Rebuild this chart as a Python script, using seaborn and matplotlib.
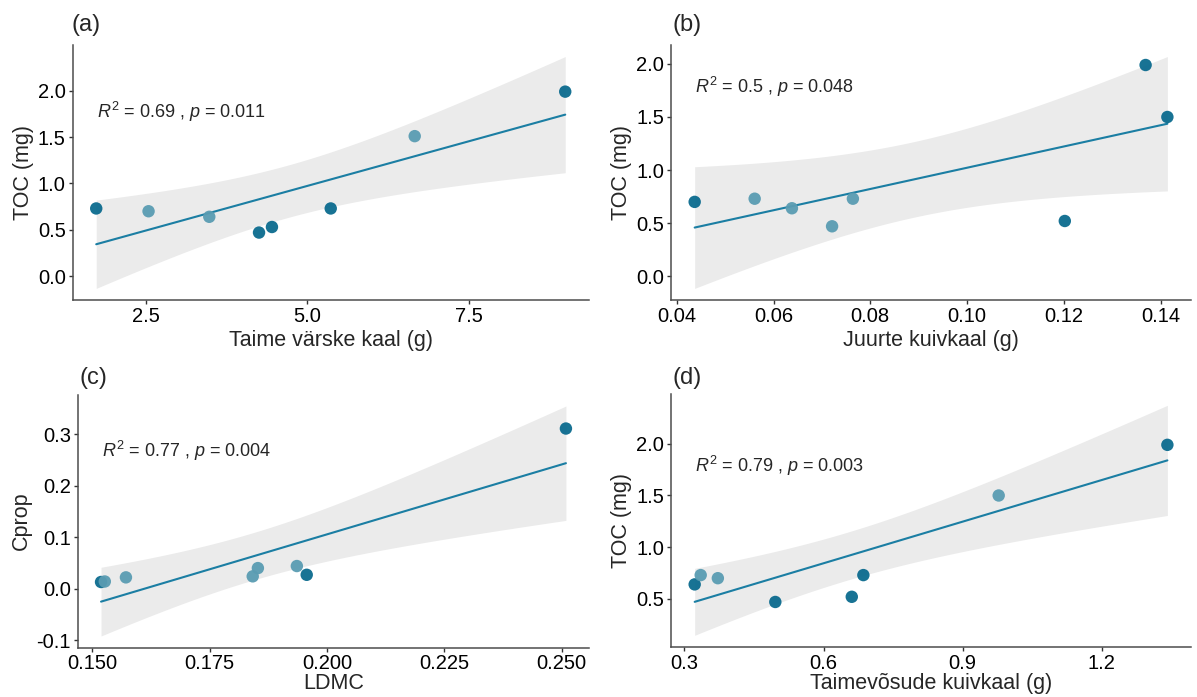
import numpy as np
import pandas as pd
import matplotlib
matplotlib.use("Agg")
import matplotlib.pyplot as plt
import seaborn as sns

# values
a_x = [1.73, 2.54, 3.48, 4.25, 4.45, 5.36, 6.66, 8.99]
a_y = [0.73, 0.70, 0.64, 0.47, 0.53, 0.73, 1.51, 1.99]
a_group = ["dark", "light", "light", "dark", "dark", "dark", "light", "dark"]

b_x = [0.0437, 0.0561, 0.0638, 0.0721, 0.0764, 0.1202, 0.1369, 0.1414]
b_y = [0.70, 0.73, 0.64, 0.47, 0.73, 0.52, 1.99, 1.50]
b_group = ["dark", "light", "light", "light", "light", "dark", "dark", "dark"]

c_x = [0.1519, 0.1527, 0.1572, 0.1842, 0.1853, 0.1936, 0.1957, 0.2509]
c_y = [0.013, 0.014, 0.022, 0.024, 0.040, 0.044, 0.027, 0.311]
c_group = ["dark", "light", "light", "light", "light", "light", "dark", "dark"]

d_x = [0.322, 0.335, 0.372, 0.496, 0.661, 0.686, 0.978, 1.342]
d_y = [0.64, 0.73, 0.70, 0.47, 0.52, 0.73, 1.50, 1.99]
d_group = ["dark", "light", "light", "dark", "dark", "dark", "light", "dark"]

x_labels = ["Taime värske kaal (g)", "Juurte kuivkaal (g)", "LDMC", "Taimevõsude kuivkaal (g)"]
y_labels = ["TOC (mg)", "TOC (mg)", "Cprop", "TOC (mg)"]
stat_labels = [r"$R^2$ = 0.69 , $p$ = 0.011", r"$R^2$ = 0.5 , $p$ = 0.048",
               r"$R^2$ = 0.77 , $p$ = 0.004", r"$R^2$ = 0.79 , $p$ = 0.003"]
panel_tags = ["(a)", "(b)", "(c)", "(d)"]

a_xticks = [2.5, 5.0, 7.5]
b_xticks = [0.04, 0.06, 0.08, 0.10, 0.12, 0.14]
c_xticks = [0.150, 0.175, 0.200, 0.225, 0.250]
d_xticks = [0.3, 0.6, 0.9, 1.2]
a_yticks = [0.0, 0.5, 1.0, 1.5, 2.0]
b_yticks = [0.0, 0.5, 1.0, 1.5, 2.0]
c_yticks = [-0.1, 0.0, 0.1, 0.2, 0.3]
d_yticks = [0.5, 1.0, 1.5, 2.0]

sns.set_style("ticks")
plt.rcParams["font.family"] = ["Liberation Sans", "DejaVu Sans"]
plt.rcParams["mathtext.fontset"] = "custom"
plt.rcParams["mathtext.rm"] = "Liberation Sans"
plt.rcParams["mathtext.it"] = "Liberation Sans:italic"

palette = {"dark": "#0b6b8e", "light": "#5a9cb2"}
line_col = "#1b7ea3"
T_CRIT = 2.447  # t quantile, df = 6

fig = plt.figure(figsize=(11.97, 6.97), dpi=100)
positions = [
    [0.0608, 0.5696, 0.4310, 0.3659],
    [0.5606, 0.5696, 0.4344, 0.3659],
    [0.0650, 0.0710, 0.4272, 0.3630],
    [0.5606, 0.0720, 0.4344, 0.3630],
]
panels = [
    (a_x, a_y, a_group, a_xticks, a_yticks, "%.1f", "%.1f"),
    (b_x, b_y, b_group, b_xticks, b_yticks, "%.2f", "%.1f"),
    (c_x, c_y, c_group, c_xticks, c_yticks, "%.3f", "%.1f"),
    (d_x, d_y, d_group, d_xticks, d_yticks, "%.1f", "%.1f"),
]
tag_pos = [(0.060, 0.964), (0.562, 0.964), (0.066, 0.457), (0.562, 0.457)]
stat_y = [0.737, 0.835, 0.776, 0.715]
xlab_pad = [3, 3, 0, 0]

for i, (xs, ys, grp, xt, yt, xf, yf) in enumerate(panels):
    ax = fig.add_axes(positions[i])
    df = pd.DataFrame({"x": xs, "y": ys, "group": grp})

    # linear fit with 95% confidence band
    x = np.array(xs)
    y = np.array(ys)
    n = len(x)
    slope, icpt = np.polyfit(x, y, 1)
    resid = y - (slope * x + icpt)
    s = np.sqrt(np.sum(resid ** 2) / (n - 2))
    grid = np.linspace(x.min(), x.max(), 100)
    se = s * np.sqrt(1 / n + (grid - x.mean()) ** 2 / np.sum((x - x.mean()) ** 2))
    fit = slope * grid + icpt
    ax.fill_between(grid, fit - T_CRIT * se, fit + T_CRIT * se, color="#ebebeb", lw=0, zorder=0)

    sns.regplot(data=df, x="x", y="y", scatter=False, ci=None, ax=ax,
                line_kws=dict(color=line_col, lw=1.5))
    sns.scatterplot(data=df, x="x", y="y", hue="group", palette=palette, s=80,
                    edgecolor="none", alpha=0.95, legend=False, ax=ax, zorder=3)

    ax.set_xticks(xt)
    ax.set_yticks(yt)
    ax.set_xticklabels([xf % v for v in xt])
    ax.set_yticklabels([yf % v for v in yt])
    ax.tick_params(labelsize=14.5, length=3, width=1, color="#333333", pad=2, labelcolor="black")
    ax.set_xlabel(x_labels[i], fontsize=15.5, labelpad=xlab_pad[i])
    ax.set_ylabel(y_labels[i], fontsize=15.5, labelpad=3)
    sns.despine(ax=ax)
    for sp in ["left", "bottom"]:
        ax.spines[sp].set_color("#4d4d4d")
        ax.spines[sp].set_linewidth(1.1)

    ax.text(0.047, stat_y[i], stat_labels[i], transform=ax.transAxes, fontsize=13,
            va="center", ha="left")
    fig.text(tag_pos[i][0], tag_pos[i][1], panel_tags[i], fontsize=17, va="center", ha="left")

fig.savefig("out.png", dpi=100, facecolor="white")
